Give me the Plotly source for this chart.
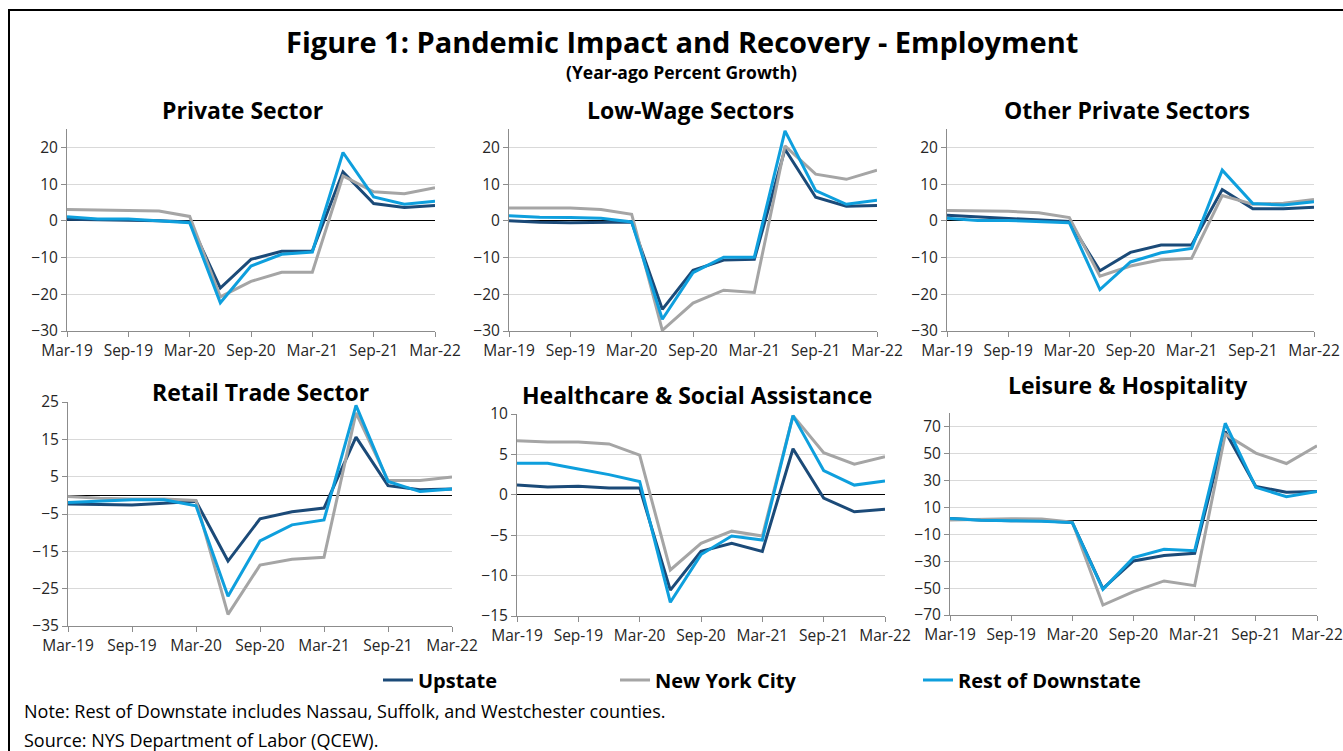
import plotly.graph_objects as go

# Quarterly observations, year-ago percent growth
quarters = ["Mar-19", "Jun-19", "Sep-19", "Dec-19", "Mar-20", "Jun-20", "Sep-20",
            "Dec-20", "Mar-21", "Jun-21", "Sep-21", "Dec-21", "Mar-22"]
tick_labels = ["Mar-19", "Sep-19", "Mar-20", "Sep-20", "Mar-21", "Sep-21", "Mar-22"]

series_names = ["Upstate", "New York City", "Rest of Downstate"]

private_upstate = [0.4, 0.3, 0.2, 0.0, -0.3, -18.3, -10.5, -8.3, -8.2, 13.3, 4.7, 3.6, 4.2]
private_nyc = [3.1, 3.0, 3.0, 2.7, 1.2, -20.7, -16.5, -14.0, -14.0, 12.2, 7.9, 7.4, 9.0]
private_rest = [1.1, 0.5, 0.5, 0.0, -0.5, -22.3, -12.3, -9.1, -8.5, 18.6, 6.5, 4.5, 5.3]

lowwage_upstate = [0.0, -0.4, -0.5, -0.3, -0.3, -24.1, -13.5, -10.7, -10.5, 19.5, 6.4, 4.0, 4.2]
lowwage_nyc = [3.5, 3.5, 3.5, 3.1, 1.8, -29.8, -22.4, -18.9, -19.5, 20.4, 12.7, 11.3, 13.8]
lowwage_rest = [1.4, 1.0, 0.9, 0.7, -0.3, -26.8, -14.1, -9.9, -9.9, 24.5, 8.2, 4.5, 5.6]

other_upstate = [1.5, 1.1, 0.7, 0.3, -0.2, -13.6, -8.6, -6.6, -6.6, 8.5, 3.3, 3.3, 3.7]
other_nyc = [2.8, 2.8, 2.6, 2.2, 0.9, -15.1, -12.3, -10.6, -10.2, 6.9, 4.5, 4.8, 5.8]
other_rest = [0.7, 0.1, 0.1, -0.3, -0.5, -18.7, -11.2, -8.7, -7.5, 13.8, 4.7, 4.3, 5.2]

retail_upstate = [-2.3, -2.5, -2.6, -2.1, -1.6, -17.6, -6.3, -4.4, -3.4, 15.6, 2.6, 1.5, 1.7]
retail_nyc = [-0.3, -0.8, -1.0, -1.0, -1.4, -31.9, -18.7, -17.1, -16.6, 22.1, 4.0, 4.0, 4.9]
retail_rest = [-1.9, -1.5, -1.2, -1.2, -2.8, -27.0, -12.2, -7.9, -6.6, 24.1, 3.7, 1.0, 1.7]

health_upstate = [1.2, 0.95, 1.05, 0.85, 0.85, -11.8, -7.0, -6.0, -7.0, 5.7, -0.4, -2.1, -1.8]
health_nyc = [6.7, 6.55, 6.55, 6.3, 4.9, -9.3, -6.0, -4.5, -5.1, 9.8, 5.2, 3.8, 4.7]
health_rest = [3.9, 3.9, 3.2, 2.5, 1.65, -13.3, -7.4, -5.1, -5.6, 9.8, 3.0, 1.2, 1.7]

leisure_upstate = [1.6, 0.5, 0.0, 0.0, -1.4, -50.4, -29.9, -25.9, -24.2, 66.3, 25.4, 21.2, 21.7]
leisure_nyc = [0.5, 1.0, 1.5, 1.2, -1.0, -62.6, -52.6, -44.7, -48.2, 64.3, 50.2, 42.5, 55.6]
leisure_rest = [1.6, 0.3, 0.0, -0.3, -1.4, -50.9, -27.4, -21.2, -22.2, 72.4, 24.8, 17.9, 21.7]

panel_titles = ["Private Sector", "Low-Wage Sectors", "Other Private Sectors",
                "Retail Trade Sector", "Healthcare & Social Assistance", "Leisure & Hospitality"]
panel_series = [
    (private_upstate, private_nyc, private_rest),
    (lowwage_upstate, lowwage_nyc, lowwage_rest),
    (other_upstate, other_nyc, other_rest),
    (retail_upstate, retail_nyc, retail_rest),
    (health_upstate, health_nyc, health_rest),
    (leisure_upstate, leisure_nyc, leisure_rest),
]
panel_ranges = [(-30, 25), (-30, 25), (-30, 25), (-35, 25), (-15, 10), (-70, 80)]
panel_ticks = [
    [-30, -20, -10, 0, 10, 20],
    [-30, -20, -10, 0, 10, 20],
    [-30, -20, -10, 0, 10, 20],
    [-35, -25, -15, -5, 5, 15, 25],
    [-15, -10, -5, 0, 5, 10],
    [-70, -50, -30, -10, 10, 30, 50, 70],
]

colors = ["#1B4A78", "#A5A5A5", "#0E9FDD"]

W, H = 1343, 751
FONT = "Open Sans"

# plot-area boxes in pixels: (left, right, top, bottom)
boxes = [
    (67, 435, 129, 331),
    (509, 877, 129, 331),
    (947, 1314, 129, 331),
    (68, 452, 402, 626),
    (517, 885, 414, 616),
    (950, 1317, 413, 615),
]
title_pos = [(242, 110), (690, 110), (1127, 110), (260, 392), (697, 395), (1128, 385)]


def px_x(v):
    return v / W


def px_y(v):
    return 1 - v / H


fig = go.Figure()
layout = {}
legend_ids = ["legend", "legend2", "legend3"]

for i, (series, (y0, y1), ticks, box) in enumerate(zip(panel_series, panel_ranges, panel_ticks, boxes)):
    n = i + 1
    xa = "x" if n == 1 else f"x{n}"
    ya = "y" if n == 1 else f"y{n}"
    for j, (vals, name, col) in enumerate(zip(series, series_names, colors)):
        fig.add_trace(go.Scatter(
            x=quarters, y=vals, name=f"<b>{name}</b>", mode="lines",
            line=dict(color=col, width=3),
            xaxis=xa, yaxis=ya,
            showlegend=(i == 0), legend=legend_ids[j],
        ))
    left, right, top, bottom = box
    layout["xaxis" if n == 1 else f"xaxis{n}"] = dict(
        domain=[px_x(left), px_x(right)], anchor=ya, automargin=False,
        type="category", categoryorder="array", categoryarray=quarters,
        range=[0, 12], tickmode="array", tickvals=tick_labels, ticktext=tick_labels,
        showline=True, linecolor="#8C8C8C", linewidth=1,
        ticks="outside", ticklen=5, tickcolor="#8C8C8C",
        showgrid=False, zeroline=False,
        tickfont=dict(family=FONT, size=15.5, color="#262626"),
    )
    layout["yaxis" if n == 1 else f"yaxis{n}"] = dict(
        domain=[px_y(bottom), px_y(top)], anchor=xa, automargin=False,
        range=[y0, y1], tickmode="array", tickvals=ticks,
        showline=True, linecolor="#8C8C8C", linewidth=1,
        ticks="outside", ticklen=5, tickcolor="#8C8C8C",
        showgrid=True, gridcolor="#D9D9D9", gridwidth=1,
        zeroline=True, zerolinecolor="#000000", zerolinewidth=1,
        tickfont=dict(family=FONT, size=15.5, color="#262626"),
    )

annotations = [
    dict(text="<b>Figure 1: Pandemic Impact and Recovery - Employment</b>",
         x=px_x(682), y=px_y(42), xref="paper", yref="paper", showarrow=False,
         font=dict(family=FONT, size=29, color="#000000"), xanchor="center", yanchor="middle"),
    dict(text="<b>(Year-ago Percent Growth)</b>",
         x=px_x(682), y=px_y(72), xref="paper", yref="paper", showarrow=False,
         font=dict(family=FONT, size=17.5, color="#000000"), xanchor="center", yanchor="middle"),
    dict(text="Note: Rest of Downstate includes Nassau, Suffolk, and Westchester counties.",
         x=px_x(22), y=px_y(711), xref="paper", yref="paper", showarrow=False,
         font=dict(family=FONT, size=18, color="#000000"), xanchor="left", yanchor="middle"),
    dict(text="Source: NYS Department of Labor (QCEW).",
         x=px_x(22), y=px_y(740), xref="paper", yref="paper", showarrow=False,
         font=dict(family=FONT, size=18, color="#000000"), xanchor="left", yanchor="middle"),
]
for t, (cx, cy) in zip(panel_titles, title_pos):
    annotations.append(dict(
        text=f"<b>{t}</b>", x=px_x(cx), y=px_y(cy), xref="paper", yref="paper",
        showarrow=False, font=dict(family=FONT, size=23, color="#000000"),
        xanchor="center", yanchor="middle"))

legend_x = [378, 615, 918]
for lid, lx in zip(legend_ids, legend_x):
    layout[lid] = dict(
        x=px_x(lx), y=px_y(680), xanchor="left", yanchor="middle",
        orientation="h", bgcolor="rgba(0,0,0,0)", borderwidth=0,
        font=dict(family=FONT, size=20, color="#000000"),
    )

fig.update_layout(
    template="none",
    width=W, height=H,
    margin=dict(l=0, r=0, t=0, b=0, autoexpand=False),
    paper_bgcolor="white", plot_bgcolor="white",
    annotations=annotations,
    shapes=[dict(type="rect", xref="paper", yref="paper",
                 x0=px_x(9), x1=1.02, y0=-0.02, y1=px_y(10),
                 line=dict(color="black", width=2), layer="above")],
    **layout,
)

fig.write_html("out.html")
